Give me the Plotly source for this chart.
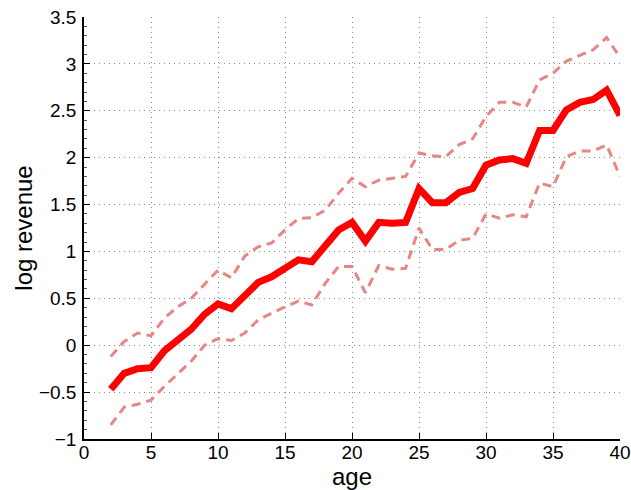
import plotly.graph_objects as go

age = list(range(2, 41))
mean_log_rev = [-0.47, -0.30, -0.25, -0.24, -0.06, 0.06, 0.17, 0.33, 0.44, 0.39,
                0.53, 0.67, 0.73, 0.82, 0.91, 0.89, 1.07, 1.23, 1.31, 1.11,
                1.31, 1.30, 1.31, 1.67, 1.52, 1.52, 1.63, 1.67, 1.92, 1.975,
                1.99, 1.94, 2.29, 2.29, 2.51, 2.59, 2.62, 2.72, 2.45]
upper_log_rev = [-0.12, 0.04, 0.13, 0.10, 0.29, 0.41, 0.50, 0.65, 0.80, 0.72,
                 0.95, 1.05, 1.09, 1.23, 1.35, 1.36, 1.44, 1.62, 1.78, 1.69,
                 1.76, 1.78, 1.80, 2.05, 2.02, 2.01, 2.14, 2.20, 2.44, 2.59,
                 2.59, 2.54, 2.83, 2.90, 3.03, 3.09, 3.15, 3.28, 3.07]
lower_log_rev = [-0.85, -0.66, -0.63, -0.585, -0.44, -0.30, -0.17, 0.00, 0.07, 0.05,
                 0.13, 0.27, 0.34, 0.41, 0.47, 0.43, 0.66, 0.84, 0.84, 0.56,
                 0.85, 0.81, 0.82, 1.25, 1.02, 1.02, 1.12, 1.14, 1.40, 1.355,
                 1.39, 1.37, 1.73, 1.69, 2.01, 2.07, 2.07, 2.135, 1.80]

x_ticks = [0, 5, 10, 15, 20, 25, 30, 35, 40]
y_ticks = [-1, -0.5, 0, 0.5, 1, 1.5, 2, 2.5, 3, 3.5]
y_tick_labels = ["\u22121", "\u22120.5", "0", "0.5", "1", "1.5", "2", "2.5", "3", "3.5"]

font_family = "Liberation Sans, Arial, Helvetica, sans-serif"
dash_color = "#E88585"

fig = go.Figure()
fig.add_trace(go.Scatter(x=age, y=upper_log_rev, mode="lines",
                         line=dict(color=dash_color, width=3, dash="9px,6px"),
                         showlegend=False))
fig.add_trace(go.Scatter(x=age, y=lower_log_rev, mode="lines",
                         line=dict(color=dash_color, width=3, dash="9px,6px"),
                         showlegend=False))
fig.add_trace(go.Scatter(x=age, y=mean_log_rev, mode="lines",
                         line=dict(color="#FF0000", width=7),
                         showlegend=False))

fig.update_layout(
    width=631, height=490,
    margin=dict(l=84, r=11, t=17, b=51, autoexpand=False),
    plot_bgcolor="white", paper_bgcolor="white",
    font=dict(family=font_family, size=19, color="black"),
    xaxis=dict(
        range=[0, 40], tickvals=x_ticks, ticktext=[str(v) for v in x_ticks],
        showgrid=True, gridcolor="#8a8a8a", griddash="1px,4px", gridwidth=1,
        showline=True, linecolor="black", linewidth=1.5, mirror=False,
        ticks="inside", ticklen=6, tickcolor="black", tickwidth=1,
        zeroline=False, ticklabelstandoff=-5, automargin=False,
        ticklabeloverflow="allow",
        title=dict(text="age", font=dict(size=24), standoff=0),
    ),
    yaxis=dict(
        range=[-1, 3.5], tickvals=y_ticks, ticktext=y_tick_labels,
        showgrid=True, gridcolor="#8a8a8a", griddash="1px,4px", gridwidth=1,
        showline=True, linecolor="black", linewidth=1.5, mirror=False,
        ticks="inside", ticklen=6, tickcolor="black", tickwidth=1,
        minor=dict(ticks="inside", ticklen=3, dtick=0.1, tickcolor="#555555", showgrid=False),
        zeroline=False, ticklabelstandoff=2, automargin=False,
        ticklabeloverflow="allow",
        title=dict(text="log revenue", font=dict(size=24), standoff=0),
    ),
)

fig.write_html("out.html",
               config={"displayModeBar": False},
               post_script="document.body.style.margin='0';document.body.style.overflow='hidden';")
